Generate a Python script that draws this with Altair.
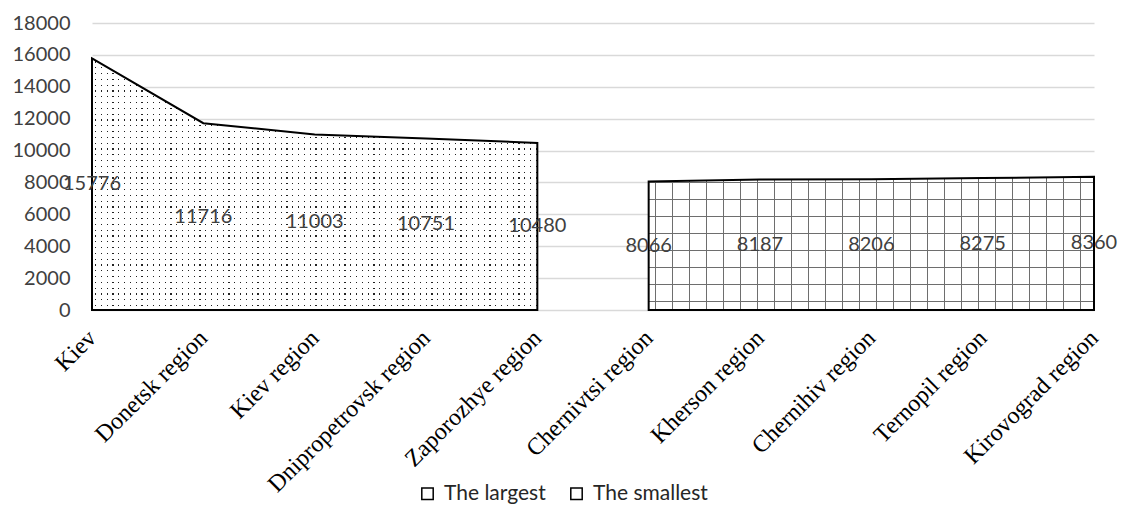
import altair as alt
import pandas as pd

categories = ["Kiev", "Donetsk region", "Kiev region", "Dnipropetrovsk region", "Zaporozhye region",
              "Chernivtsi region", "Kherson region", "Chernihiv region", "Ternopil region", "Kirovograd region"]
values = [15776, 11716, 11003, 10751, 10480, 8066, 8187, 8206, 8275, 8360]
series = ["The largest"] * 5 + ["The smallest"] * 5
series_names = ["The largest", "The smallest"]
y_ticks = list(range(0, 18001, 2000))

df = pd.DataFrame({"cat": categories, "value": values, "series": series})

W, H = 1002, 287
PAD_L, PAD_T = 92, 23
PAD_R = 1126 - PAD_L - W
PAD_B = 506 - PAD_T - H


def stripes(total, spacing, thick, line, bg, start, vertical=False):
    stops = [{"offset": 0, "color": bg}]
    pos = start
    while pos + thick < total:
        a = pos / total
        b = (pos + thick) / total
        stops += [{"offset": a, "color": bg}, {"offset": a, "color": line},
                  {"offset": b, "color": line}, {"offset": b, "color": bg}]
        pos += spacing
    stops.append({"offset": 1, "color": bg})
    g = {"gradient": "linear", "x1": 0, "y1": 0, "x2": 0 if vertical else 1, "y2": 1 if vertical else 0,
         "stops": stops}
    return g


area_w = W * 4 / 9
h_large = max(values[:5]) / 18000 * H
h_small = max(values[5:]) / 18000 * H
CLEAR = "rgba(255,255,255,0)"

x_enc = alt.X("cat:N", scale=alt.Scale(domain=categories, type="point", padding=0), sort=categories,
              axis=alt.Axis(title=None, labelAngle=-45, labelFont="Liberation Serif", labelFontSize=24,
                            labelColor="#000000", ticks=False, domain=False, labelPadding=24,
                            labelAlign="right", labelBaseline="middle", grid=False, labelLimit=0,
                            labelOverlap=False))
y_scale = alt.Scale(domain=[0, 18000], nice=False)
y_axis = alt.Axis(title=None, values=y_ticks, labelFont="Lato", labelFontSize=20,
                  labelColor="#404040", ticks=False, domain=False, labelPadding=22,
                  gridColor="#d9d9d9", gridWidth=1.5, format="d", labelOverlap=False)
y_enc = alt.Y("value:Q", scale=y_scale, stack=None, axis=y_axis)

base = alt.Chart(df).encode(x=x_enc, y=y_enc)
large = base.transform_filter(alt.datum.series == "The largest")
small = base.transform_filter(alt.datum.series == "The smallest")

layers = [
    large.mark_area(fill="#222222", strokeWidth=0),
    large.mark_area(fill=stripes(area_w, 5.8, 1.2, CLEAR, "#ffffff", 3.0), strokeWidth=0),
    large.mark_area(fill=stripes(h_large, 5.8, 1.2, CLEAR, "#ffffff", 3.0, vertical=True), strokeWidth=0),
    small.mark_area(fill="#ffffff", strokeWidth=0),
    small.mark_area(fill=stripes(area_w, 17, 1.0, "#6e6e6e", CLEAR, 6.0), strokeWidth=0),
    small.mark_area(fill=stripes(h_small, 17, 1.0, "#6e6e6e", CLEAR, 5.0, vertical=True), strokeWidth=0),
    base.mark_area(fillOpacity=0, strokeWidth=2).encode(
        stroke=alt.Stroke("series:N", scale=alt.Scale(domain=series_names, range=["#000000", "#000000"]),
                          legend=alt.Legend(title=None, orient="none", direction="horizontal",
                                            legendX=325, legendY=460, symbolType="square", symbolSize=130,
                                            symbolStrokeWidth=1.5, symbolFillColor="#ffffff",
                                            labelFont="Lato", labelFontSize=21, labelColor="#262626",
                                            columnPadding=20, labelOffset=6)),
        fill=alt.value("#ffffff")),
    base.transform_calculate(half="datum.value / 2").mark_text(
        font="Lato", fontSize=20, color="#404040", align="center", baseline="middle").encode(
        y=alt.Y("half:Q", scale=y_scale, axis=y_axis), text=alt.Text("value:Q", format="d")),
]

chart = alt.layer(*layers).properties(
    width=W, height=H,
    autosize=alt.AutoSizeParams(type="none"),
    padding={"left": PAD_L, "top": PAD_T, "right": PAD_R, "bottom": PAD_B},
    background="#ffffff",
).configure_view(stroke=None)

chart.save("out.html", embed_options={"renderer": "svg", "actions": False})
